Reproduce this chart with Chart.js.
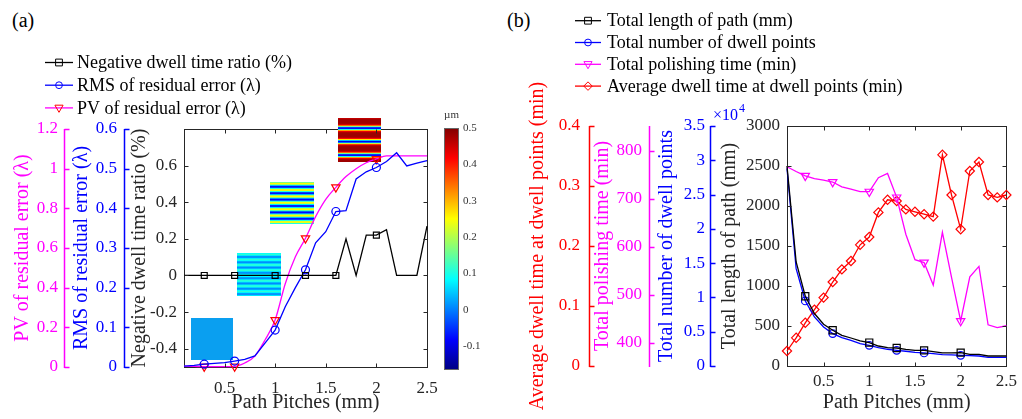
<!DOCTYPE html>
<html>
<head>
<meta charset="utf-8">
<title>Path pitch study</title>
<script src="https://cdn.jsdelivr.net/npm/chart.js@4.4.1/dist/chart.umd.min.js"></script>
<style>
  body { margin: 0; background: #fff; }
  .panel { position: absolute; top: 0; }
  .tag { position: absolute; top: 9px; font: 20px 'Liberation Serif', serif; color: #000; }
</style>
</head>
<body>
<div class="tag" style="left:12px">(a)</div>
<div class="tag" style="left:507px">(b)</div>
<canvas id="chartA" class="panel" width="510" height="419" style="left:0"></canvas>
<canvas id="chartB" class="panel" width="512" height="419" style="left:510px"></canvas>
<script>
const FONT = "'Liberation Serif', 'Times New Roman', serif";
const AXIS = "#262626";

// shared x values (path pitch, mm) and the pitches that carry a marker
const pitches = [0.1, 0.2, 0.3, 0.4, 0.5, 0.6, 0.7, 0.8, 0.9, 1.0, 1.1, 1.2, 1.3,
                 1.4, 1.5, 1.6, 1.7, 1.8, 1.9, 2.0, 2.1, 2.2, 2.3, 2.4, 2.5];
const markedPitches = [0.3, 0.6, 1.0, 1.3, 1.6, 2.0];

// (a)
const negDwellRatio = [0, 0, 0, 0, 0, 0, 0, 0, 0, 0, 0, 0, 0, 0, 0, 0,
                       0.2, 0, 0.22, 0.22, 0.25, 0, 0, 0, 0.27];
const rmsError = [0.002, 0.004, 0.007, 0.009, 0.011, 0.015, 0.019, 0.028, 0.06, 0.093,
                  0.152, 0.2, 0.245, 0.313, 0.341, 0.392, 0.394, 0.474, 0.492, 0.503,
                  0.518, 0.54, 0.507, 0.514, 0.52];
const pvError = [0.004, 0.003, 0.002, 0.002, 0.002, 0.003, 0.02, 0.055, 0.136, 0.237,
                 0.42, 0.556, 0.649, 0.758, 0.845, 0.906, 0.96, 1.0, 1.03, 1.049,
                 1.064, 1.064, 1.064, 1.064, 1.064];

// (b)
const pathLength = [2500, 1300, 872, 656, 522, 447, 384, 350, 313, 293, 250, 230, 225,
                    209, 196, 196, 180, 163, 163, 167, 146, 146, 125, 125, 125];
const dwellPoints = [28800, 14200, 9490, 7150, 5690, 4730, 4140, 3750, 3270, 3020, 2680,
                     2440, 2290, 2150, 2000, 1900, 1810, 1660, 1610, 1560, 1510, 1460,
                     1270, 1270, 1270];
const polishTime = [767, 757, 748, 742, 739, 735, 725, 720, 715, 715, 744, 753, 703,
                    626, 573, 567, 520, 630, 536, 445, 537, 559, 437, 431, 435];
const avgDwellTime = [0.025, 0.047, 0.072, 0.094, 0.114, 0.14, 0.161, 0.175, 0.202, 0.215,
                      0.256, 0.277, 0.275, 0.261, 0.257, 0.253, 0.249, 0.352, 0.285, 0.228,
                      0.325, 0.34, 0.285, 0.281, 0.285];

// tick labels
const pitchTicks = [0.5, 1, 1.5, 2, 2.5];
const negTicks = [-0.4, -0.2, 0, 0.2, 0.4, 0.6];
const rmsTicks = [0, 0.1, 0.2, 0.3, 0.4, 0.5, 0.6];
const pvTicks = [0, 0.2, 0.4, 0.6, 0.8, 1, 1.2];
const lengthTicks = [0, 500, 1000, 1500, 2000, 2500, 3000];
const dwellTicks = [0, 5000, 10000, 15000, 20000, 25000, 30000, 35000];
const timeTicks = [400, 500, 600, 700, 800];
const avgTicks = [0, 0.1, 0.2, 0.3, 0.4];
const colorbarTicks = [-0.1, 0, 0.1, 0.2, 0.3, 0.4, 0.5];
const colorbarRange = [-0.166, 0.5];

const pts = arr => pitches.map((p, i) => ({ x: p, y: arr[i] }));
const onMarked = r => ctx => markedPitches.includes(pitches[ctx.dataIndex]) ? r : 0;

function series(label, values, axis, color, style, radius, extra) {
  return Object.assign({
    label: label,
    data: pts(values),
    yAxisID: axis,
    borderColor: color,
    borderWidth: 1.3,
    pointStyle: style,
    pointRadius: radius,
    pointHoverRadius: radius,
    pointBorderColor: color,
    pointBackgroundColor: "rgba(0,0,0,0)",
    pointBorderWidth: 1.2,
    clip: false,
    tension: 0
  }, extra || {});
}

function yAxis(o) {
  return {
    position: "left",
    weight: o.weight,
    min: o.min,
    max: o.max,
    afterBuildTicks: s => { s.ticks = o.ticks.map(v => ({ value: v })); },
    afterFit: s => { s.width = o.width; },
    grid: { display: false, drawTicks: false },
    border: { display: false },
    ticks: { color: o.color, font: { family: FONT, size: 17 }, padding: o.pad, autoSkip: false,
             callback: o.fmt || (v => String(v)) },
    title: { display: true, text: o.title, color: o.color, font: { family: FONT, size: 20 },
             padding: { top: o.titlePad, bottom: 0 } }
  };
}

function xAxis(height, pad) {
  return {
    type: "linear",
    min: 0.1,
    max: 2.5,
    afterBuildTicks: s => { s.ticks = pitchTicks.map(v => ({ value: v })); },
    afterFit: s => { s.height = height; },
    grid: { display: false, drawTicks: false },
    border: { display: false },
    ticks: { color: AXIS, font: { family: FONT, size: 17 }, padding: pad, maxRotation: 0,
             autoSkip: false, callback: v => String(v) },
    title: { display: true, text: "Path Pitches (mm)", color: AXIS, font: { family: FONT, size: 20 },
             padding: { top: 0, bottom: 4 } }
  };
}

// matlab style box, inward ticks, and detached side axes
function axesPlugin(mainY, sideAxes) {
  return {
    id: "matlabAxes",
    beforeDatasetsDraw(chart) {
      const { ctx, chartArea: a } = chart;
      ctx.save();
      ctx.strokeStyle = AXIS;
      ctx.lineWidth = 1;
      ctx.strokeRect(Math.round(a.left) + 0.5, Math.round(a.top) + 0.5,
                     Math.round(a.right - a.left), Math.round(a.bottom - a.top));
      ctx.restore();
    },
    afterDatasetsDraw(chart) {
      const { ctx, chartArea: a, scales } = chart;
      const L = Math.round(a.left) + 0.5, R = Math.round(a.right) + 0.5;
      const T = Math.round(a.top) + 0.5, B = Math.round(a.bottom) + 0.5;
      ctx.save();
      ctx.lineWidth = 1;
      ctx.strokeStyle = AXIS;
      ctx.beginPath();
      pitchTicks.forEach(v => {
        const px = Math.round(scales.x.getPixelForValue(v)) + 0.5;
        ctx.moveTo(px, B); ctx.lineTo(px, B - 4);
        ctx.moveTo(px, T); ctx.lineTo(px, T + 4);
      });
      scales[mainY].ticks.forEach(t => {
        const py = Math.round(scales[mainY].getPixelForValue(t.value)) + 0.5;
        ctx.moveTo(L, py); ctx.lineTo(L + 4, py);
        ctx.moveTo(R, py); ctx.lineTo(R - 4, py);
      });
      ctx.stroke();
      sideAxes.forEach(id => {
        const s = scales[id];
        const x = Math.round(s.right) + 0.5;
        ctx.strokeStyle = s.options.ticks.color;
        ctx.lineWidth = 1.5;
        ctx.beginPath();
        ctx.moveTo(x, T - 0.5); ctx.lineTo(x, B + 0.5);
        s.ticks.forEach(t => {
          const py = Math.round(s.getPixelForValue(t.value)) + 0.5;
          ctx.moveTo(x, py); ctx.lineTo(x + 5, py);
        });
        ctx.stroke();
      });
      ctx.restore();
    }
  };
}

function drawMarker(ctx, style, x, y, r, color) {
  ctx.save();
  ctx.strokeStyle = color;
  ctx.lineWidth = 1;
  ctx.beginPath();
  if (style === "rect") {
    ctx.rect(x - r, y - r, 2 * r, 2 * r);
  } else if (style === "circle") {
    ctx.arc(x, y, r, 0, Math.PI * 2);
  } else if (style === "triangle") {
    ctx.moveTo(x - r * 1.2, y - r * 0.8);
    ctx.lineTo(x + r * 1.2, y - r * 0.8);
    ctx.lineTo(x, y + r * 1.3);
    ctx.closePath();
  } else {
    ctx.moveTo(x, y - r * 1.25); ctx.lineTo(x + r * 1.25, y);
    ctx.lineTo(x, y + r * 1.25); ctx.lineTo(x - r * 1.25, y);
    ctx.closePath();
  }
  ctx.stroke();
  ctx.restore();
}

function legendPlugin(x, y0, dy, len, gap) {
  return {
    id: "legendList",
    afterDraw(chart) {
      const ctx = chart.ctx;
      chart.data.datasets.forEach((ds, i) => {
        const y = y0 + i * dy;
        ctx.save();
        ctx.strokeStyle = ds.borderColor;
        ctx.lineWidth = 1.3;
        ctx.beginPath();
        ctx.moveTo(x, y); ctx.lineTo(x + len, y);
        ctx.stroke();
        drawMarker(ctx, ds.pointStyle, x + len / 2, y, 3.4, ds.pointBorderColor);
        ctx.fillStyle = "#000";
        ctx.font = "18px " + FONT;
        ctx.textAlign = "left";
        ctx.textBaseline = "middle";
        ctx.fillText(ds.label, x + len + gap, y + 1);
        ctx.restore();
      });
    }
  };
}

function jet(t) {
  const c = v => Math.round(255 * Math.max(0, Math.min(1, 1.5 - Math.abs(v))));
  return "rgb(" + c(4 * t - 3) + "," + c(4 * t - 2) + "," + c(4 * t - 1) + ")";
}

// small residual maps shown inside panel (a), placed in data coordinates
const insetMaps = [
  { x: [0.17, 0.585], y: [-0.232, -0.462], shade: () => "#0a9ff0" },
  { x: [0.623, 1.058], y: [0.123, -0.112],
    shade: r => jet(0.34 + 0.08 * Math.sin(2 * Math.PI * r / 5.3)) },
  { x: [0.949, 1.384], y: [0.51, 0.281],
    shade: r => jet(0.38 + 0.25 * Math.sin(2 * Math.PI * r / 6.4)) },
  { x: [1.62, 2.046], y: [0.86, 0.62],
    shade: r => { const p = ((r / 13.5) + 0.75) % 1; return jet(0.97 - 0.86 * Math.exp(-Math.pow((p - 0.5) / 0.16, 2))); } }
];

const insetPlugin = {
  id: "insetMaps",
  beforeDatasetsDraw(chart) {
    const { ctx, scales } = chart;
    ctx.save();
    insetMaps.forEach(m => {
      const x0 = Math.round(scales.x.getPixelForValue(m.x[0]));
      const x1 = Math.round(scales.x.getPixelForValue(m.x[1]));
      const y0 = Math.round(scales.yNeg.getPixelForValue(m.y[0]));
      const y1 = Math.round(scales.yNeg.getPixelForValue(m.y[1]));
      for (let r = 0; r < y1 - y0; r++) {
        ctx.fillStyle = m.shade(r + 0.5);
        ctx.fillRect(x0, y0 + r, x1 - x0, 1);
      }
    });
    ctx.restore();
  }
};

const colorbarPlugin = {
  id: "colorbar",
  afterDraw(chart) {
    const { ctx, chartArea: a } = chart;
    const x0 = Math.round(a.right) + 17, w = 15;
    const top = Math.round(a.top) - 1, bot = Math.round(a.bottom) + 3;
    const g = ctx.createLinearGradient(0, bot, 0, top);
    [[0, "#000080"], [0.125, "#0000ff"], [0.375, "#00ffff"], [0.625, "#ffff00"],
     [0.875, "#ff0000"], [1, "#800000"]].forEach(s => g.addColorStop(s[0], s[1]));
    ctx.save();
    ctx.fillStyle = g;
    ctx.fillRect(x0, top, w, bot - top);
    ctx.strokeStyle = "#666";
    ctx.lineWidth = 1;
    ctx.strokeRect(x0 + 0.5, top + 0.5, w - 1, bot - top - 1);
    ctx.fillStyle = "#333";
    ctx.font = "11px " + FONT;
    ctx.textAlign = "left";
    ctx.textBaseline = "middle";
    const [lo, hi] = colorbarRange;
    colorbarTicks.forEach(v => {
      const y = bot - (v - lo) / (hi - lo) * (bot - top);
      ctx.fillText(String(v), x0 + w + 4, y);
    });
    ctx.textAlign = "center";
    ctx.fillText("\u00b5m", x0 + w / 2, top - 13);
    ctx.restore();
  }
};

const exponentPlugin = {
  id: "exponent",
  afterDraw(chart) {
    const { ctx, chartArea: a, scales } = chart;
    const x = scales.yDwell.right + 3;
    ctx.save();
    ctx.fillStyle = "#0000ff";
    ctx.textAlign = "left";
    ctx.textBaseline = "alphabetic";
    ctx.font = "16px " + FONT;
    ctx.fillText("\u00d710", x, a.top - 6);
    const w = ctx.measureText("\u00d710").width;
    ctx.font = "12px " + FONT;
    ctx.fillText("4", x + w + 1, a.top - 14);
    ctx.restore();
  }
};

const noUi = { legend: { display: false }, tooltip: { enabled: false } };

new Chart(document.getElementById("chartA"), {
  type: "line",
  data: {
    datasets: [
      series("Negative dwell time ratio (%)", negDwellRatio, "yNeg", "#000000", "rect", onMarked(4.2)),
      series("RMS of residual error (\u03bb)", rmsError, "yRms", "#0000ff", "circle", onMarked(4)),
      series("PV of residual error (\u03bb)", pvError, "yPv", "#ff00ff", "triangle", onMarked(4.8),
             { pointBorderColor: "#ff0000", pointRotation: 180, cubicInterpolationMode: "monotone" })
    ]
  },
  options: {
    responsive: false,
    animation: false,
    devicePixelRatio: 1,
    layout: { padding: { left: 8, right: 83, top: 129, bottom: 0 } },
    plugins: noUi,
    scales: {
      x: xAxis(52, 11),
      yNeg: yAxis({ weight: 0, min: -0.5, max: 0.8, ticks: negTicks, width: 60, pad: 7, color: AXIS,
                    title: "Negative dwell time ratio (%)", titlePad: 4 }),
      yRms: yAxis({ weight: 1, min: 0, max: 0.6, ticks: rmsTicks, width: 60, pad: 7, color: "#0000ff",
                    title: "RMS of residual error (\u03bb)", titlePad: 6 }),
      yPv: yAxis({ weight: 2, min: 0, max: 1.2, ticks: pvTicks, width: 56, pad: 6, color: "#ff00ff",
                   title: "PV of residual error (\u03bb)", titlePad: 3 })
    }
  },
  plugins: [axesPlugin("yNeg", ["yRms", "yPv"]), insetPlugin, colorbarPlugin,
            legendPlugin(45, 62.5, 22.7, 28, 4)]
});

new Chart(document.getElementById("chartB"), {
  type: "line",
  data: {
    datasets: [
      series("Total length of path (mm)", pathLength, "yLen", "#000000", "rect", onMarked(5)),
      series("Total number of dwell points", dwellPoints, "yDwell", "#0000ff", "circle", onMarked(3.8)),
      series("Total polishing time (min)", polishTime, "yTime", "#ff00ff", "triangle", onMarked(4.8),
             { pointRotation: 180 }),
      series("Average dwell time at dwell points (min)", avgDwellTime, "yAvg", "#ff0000", "rectRot", 4.6)
    ]
  },
  options: {
    responsive: false,
    animation: false,
    devicePixelRatio: 1,
    layout: { padding: { left: 12, right: 13, top: 126, bottom: 0 } },
    plugins: noUi,
    scales: {
      x: xAxis(53, 5),
      yLen: yAxis({ weight: 0, min: 0, max: 3000, ticks: lengthTicks, width: 77, pad: 7, color: AXIS,
                    title: "Total length of path (mm)", titlePad: 8 }),
      yDwell: yAxis({ weight: 1, min: 0, max: 35000, ticks: dwellTicks, width: 61, pad: 5, color: "#0000ff",
                      title: "Total number of dwell points", titlePad: 6, fmt: v => String(v / 10000) }),
      yTime: yAxis({ weight: 2, min: 351, max: 852, ticks: timeTicks, width: 60, pad: 7, color: "#ff00ff",
                     title: "Total polishing time (min)", titlePad: 2 }),
      yAvg: yAxis({ weight: 3, min: 0, max: 0.4, ticks: avgTicks, width: 67, pad: 9, color: "#ff0000",
                    title: "Average dwell time at dwell points (min)", titlePad: 4 })
    }
  },
  plugins: [axesPlugin("yLen", ["yDwell", "yTime", "yAvg"]), exponentPlugin,
            legendPlugin(65, 20.7, 21.8, 26, 6)]
});
</script>
</body>
</html>
